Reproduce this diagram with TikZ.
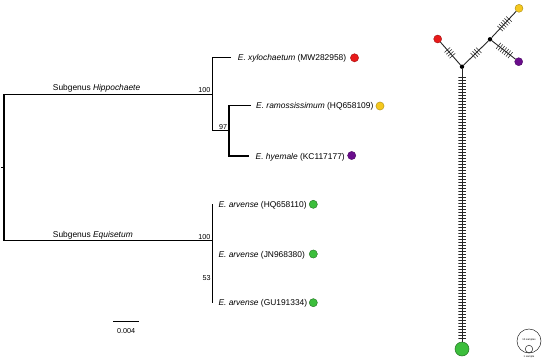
\documentclass[tikz,border=0pt]{standalone}
\usepackage{fontspec}
\setmainfont{Liberation Sans}
\usetikzlibrary{calc}
\definecolor{hred}{RGB}{232,26,26}
\definecolor{hyel}{RGB}{245,200,30}
\definecolor{hpur}{RGB}{106,13,140}
\definecolor{hgrn}{RGB}{60,190,60}
\newcommand\tlabfont{\fontsize{8.4}{10}\selectfont}
\newcommand\bsfont{\fontsize{7.2}{8.5}\selectfont}
\newcommand\legfont{\fontsize{2.6}{3}\selectfont}
\newcommand\hatchline[4]{%
  \foreach \i in {1,...,#3}{%
    \pgfmathsetmacro\hp{0.5+(\i-(#3+1)/2)*#4}%
    \path (#1.center) -- (#2.center) node[hatchmark, pos=\hp]{};}}
\begin{document}
\begin{tikzpicture}[x=1pt,y=-1pt,
  tree/.style={line width=1.1pt, black},
  leaflab/.style={anchor=base west, inner sep=0pt, font=\tlabfont},
  bslab/.style={anchor=base east, inner sep=0pt, font=\bsfont},
  sglab/.style={anchor=base west, inner sep=0pt, font=\tlabfont},
  tipdot/.style={circle, inner sep=0pt, minimum size=8.2pt, line width=0.4pt},
  hap/.style={circle, inner sep=0pt, minimum size=8pt, line width=0.4pt},
  junc/.style={circle, inner sep=0pt, minimum size=4.4pt, fill=black},
  net/.style={line width=0.9pt, black!85},
  hatchmark/.style={sloped, draw=black!85, shape=rectangle, minimum width=0pt, minimum height=7.5pt, inner sep=0pt, line width=0.55pt}]
\useasboundingbox (0,0) rectangle (550,362);
% ---------- tree ----------
\coordinate (rootstub) at (1.2,167.7);
\coordinate (root) at (4,167.7);
\coordinate (H) at (212.7,94.3);
\coordinate (E) at (212.7,240.7);
\coordinate (n97) at (229,130.7);
\coordinate (txyl) at (231,57.3);
\coordinate (tram) at (250.5,105.5);
\coordinate (thye) at (249,156);
\coordinate (ta1) at (212.7,204.3);
\coordinate (n53) at (212.7,278.3);
\coordinate (ta2) at (212.7,254);
\coordinate (ta3) at (212.7,302.7);
\draw[tree] (rootstub) -- (root);
\draw[tree] (H) -| (root) |- (E);
\draw[tree] (txyl) -| (H) |- (n97);
\draw[tree] (tram) -| (n97) |- (thye);
\draw[tree] (ta1) -- (E) -- (n53);
\draw[tree] (ta2) -- (n53) -- (ta3);
% subgenus labels
\node[sglab] (sgH) at (52.7,90.2) {Subgenus \textit{Hippochaete}};
\node[sglab] (sgE) at (52.7,237.5) {Subgenus \textit{Equisetum}};
% bootstrap
\node[bslab] (b100a) at (210.5,92.6) {100};
\node[bslab] (b97) at (227.3,129.2) {97};
\node[bslab] (b100b) at (210.5,239.3) {100};
\node[bslab] (b53) at (210.8,280.9) {53};
% leaf labels
\node[leaflab] (lxyl) at (237.7,60.3) {\textit{E. xylochaetum} (MW282958)};
\node[leaflab] (lram) at (256,108.5) {\textit{E. ramossissimum} (HQ658109)};
\node[leaflab] (lhye) at (255.5,159) {\textit{E. hyemale} (KC117177)};
\node[leaflab] (la1) at (218.3,207.3) {\textit{E. arvense} (HQ658110)};
\node[leaflab] (la2) at (218.3,257) {\textit{E. arvense} (JN968380)};
\node[leaflab] (la3) at (218.3,305.7) {\textit{E. arvense} (GU191334)};
% tip dots
\node[tipdot, fill=hred, draw=hred!70!black] (dxyl) at (354.5,57.8) {};
\node[tipdot, fill=hyel, draw=hyel!70!black] (dram) at (380,106) {};
\node[tipdot, fill=hpur, draw=hpur!70!black] (dhye) at (351.7,155.5) {};
\node[tipdot, fill=hgrn, draw=hgrn!60!black] (da1) at (313.3,204.3) {};
\node[tipdot, fill=hgrn, draw=hgrn!60!black] (da2) at (313.3,254) {};
\node[tipdot, fill=hgrn, draw=hgrn!60!black] (da3) at (313.3,302.7) {};
% scale bar
\coordinate (sb1) at (113.3,321.7);
\coordinate (sb2) at (139,321.7);
\draw[line width=1pt] (sb1) -- (sb2);
\node[anchor=base, inner sep=0pt, font=\bsfont] (sblab) at (126.2,333.6) {0.004};
% ---------- haplotype network ----------
\node[hap, fill=hred, draw=hred!70!black] (hr) at (437.7,39) {};
\node[junc] (A) at (462,66.7) {};
\node[junc] (B) at (490,39.3) {};
\node[hap, fill=hyel, draw=hyel!70!black] (hy) at (519,8.3) {};
\node[hap, fill=hpur, draw=hpur!70!black] (hp) at (518.7,61.7) {};
\node[circle, inner sep=0pt, minimum size=14pt, line width=0.5pt, fill=hgrn, draw=hgrn!60!black] (hg) at (462,349) {};
\draw[net] (hr) -- (A);
\draw[net] (A) -- (B);
\draw[net] (B) -- (hy);
\draw[net] (B) -- (hp);
\draw[net] (A) -- (hg);
\hatchline{A}{hr}{4}{0.07}
\hatchline{A}{B}{4}{0.066}
\hatchline{B}{hy}{6}{0.061}
\hatchline{B}{hp}{7}{0.069}
\hatchline{A}{hg}{88}{0.01063}
% legend
\node[circle, draw=black!85, inner sep=0pt, minimum size=24pt, line width=0.5pt] (legbig) at (529,341) {};
\node[circle, draw=black!85, inner sep=0pt, minimum size=7.5pt, line width=0.5pt] (legsmall) at (529,349) {};
\node[inner sep=0pt, font=\legfont] (leg10) at (529,339.8) {10 samples};
\node[inner sep=0pt, font=\legfont] (leg1) at (529,357.2) {1 sample};
\end{tikzpicture}
\end{document}
